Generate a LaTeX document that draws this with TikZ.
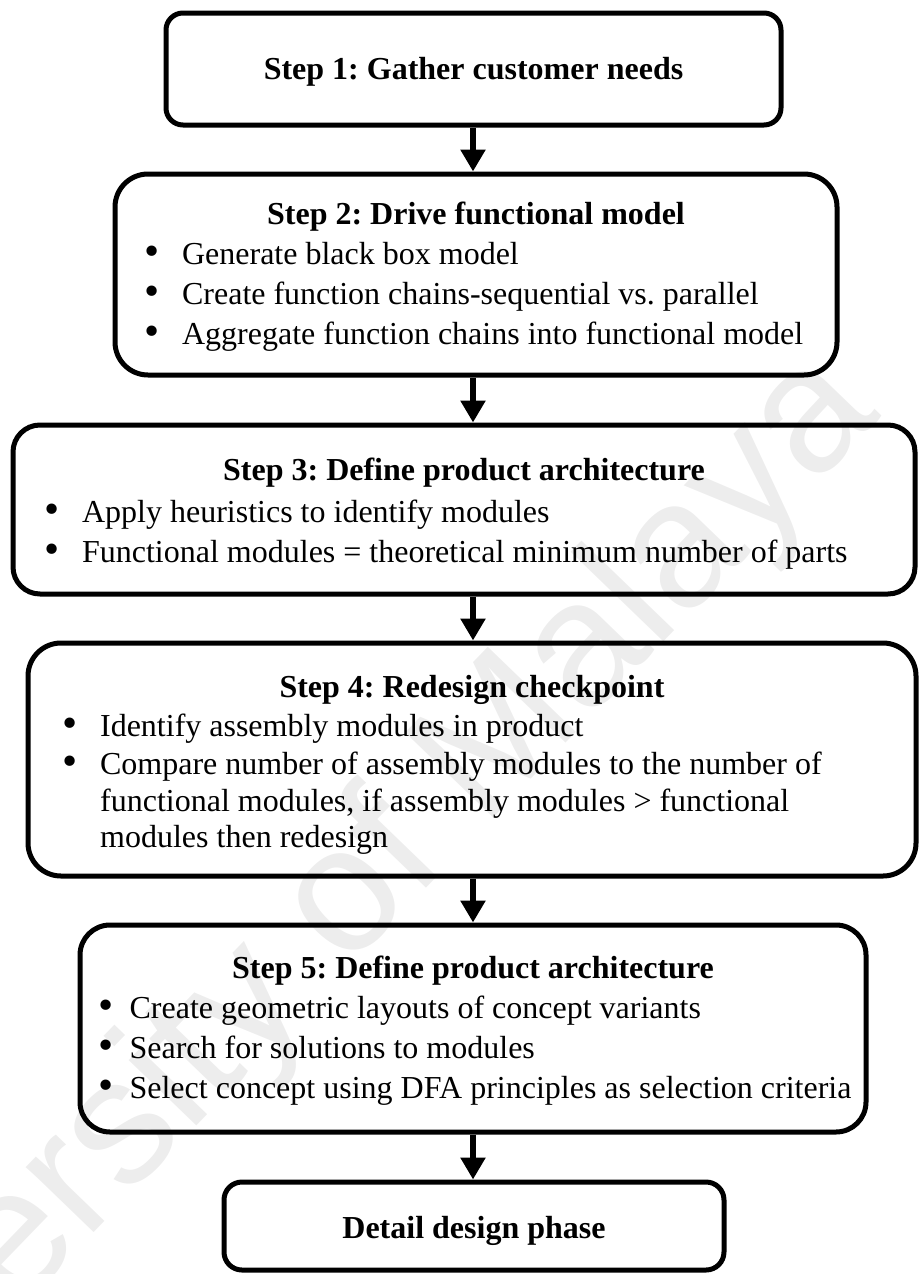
\documentclass[tikz,border=0pt]{standalone}
\usepackage{fontspec}
\setmainfont{Liberation Serif}
\newfontfamily\wmfont{Liberation Sans}
\usetikzlibrary{arrows.meta}
\newcommand{\bl}{\makebox[37.5pt][l]{\raisebox{-1.6pt}{\scalebox{1.35}{\textbullet}}}}
\newcommand{\blb}{\makebox[31pt][l]{\raisebox{-1.6pt}{\scalebox{1.35}{\textbullet}}}}
\frenchspacing
\begin{document}
\begin{tikzpicture}[x=1pt,y=-1pt,
  box/.style={draw, line width=5pt, inner sep=0pt},
  arr/.style={line width=6pt, -{Triangle[width=24pt,length=22pt]}},
  ttl/.style={font=\fontsize{32}{38}\selectfont\bfseries, inner sep=0pt, anchor=mid},
  itm/.style={font=\fontsize{32}{38}\selectfont, inner sep=0pt, anchor=mid west},
  wm/.style={font=\wmfont\fontsize{178}{178}\selectfont, text=black!7, inner sep=0pt}]
\useasboundingbox (0,0) rectangle (919,1274);
\node[wm, rotate=46, anchor=base] (wm) at (326,992) {University of Malaya};
% boxes
\node[box, rounded corners=17pt, minimum width=615pt, minimum height=112pt] (b1) at (473.5,69) {};
\node[box, rounded corners=33pt, minimum width=722pt, minimum height=201pt] (b2) at (476,274.5) {};
\node[box, rounded corners=27pt, minimum width=902pt, minimum height=169pt] (b3) at (464,509.5) {};
\node[box, rounded corners=33pt, minimum width=888pt, minimum height=233pt] (b4) at (472,759.5) {};
\node[box, rounded corners=30pt, minimum width=786pt, minimum height=207pt] (b5) at (473,1028.5) {};
\node[box, rounded corners=18pt, minimum width=500pt, minimum height=88pt] (b6) at (474,1226) {};
% texts
\node[ttl] (t1) at (473.5,77) {Step 1: Gather customer needs};
\node[ttl] (t2) at (476,222) {Step 2: Drive functional model};
\node[itm] (i21) at (144.4,262) {\bl Generate black box model};
\node[itm] (i22) at (144.4,302) {\bl Create function chains-sequential vs. parallel};
\node[itm] (i23) at (144.4,342) {\bl Aggregate function chains into functional model};
\node[ttl] (t3) at (464,478) {Step 3: Define product architecture};
\node[itm] (i31) at (44.4,520) {\bl Apply heuristics to identify modules};
\node[itm] (i32) at (44.4,560) {\bl Functional modules = theoretical minimum number of parts};
\node[ttl] (t4) at (472,695) {Step 4: Redesign checkpoint};
\node[itm] (i41) at (62.4,734) {\bl Identify assembly modules in product};
\node[itm] (i42) at (62.4,772) {\bl Compare number of assembly modules to the number of};
\node[itm] (i43) at (100,809) {functional modules, if assembly modules > functional};
\node[itm] (i44) at (100,845) {modules then redesign};
\node[ttl] (t5) at (473,976) {Step 5: Define product architecture};
\node[itm] (i51) at (98.4,1016) {\blb Create geometric layouts of concept variants};
\node[itm] (i52) at (98.4,1056) {\blb Search for solutions to modules};
\node[itm] (i53) at (98.4,1096) {\blb Select concept using DFA principles as selection criteria};
\node[ttl] (t6) at (474,1236) {Detail design phase};
% arrows
\coordinate (ax) at (473,0);
\draw[arr] (b1.south -| ax) -- (b2.north -| ax);
\draw[arr] (b2.south -| ax) -- (b3.north -| ax);
\draw[arr] (b3.south -| ax) -- (b4.north -| ax);
\draw[arr] (b4.south -| ax) -- (b5.north -| ax);
\draw[arr] (b5.south -| ax) -- (b6.north -| ax);
\end{tikzpicture}
\end{document}
